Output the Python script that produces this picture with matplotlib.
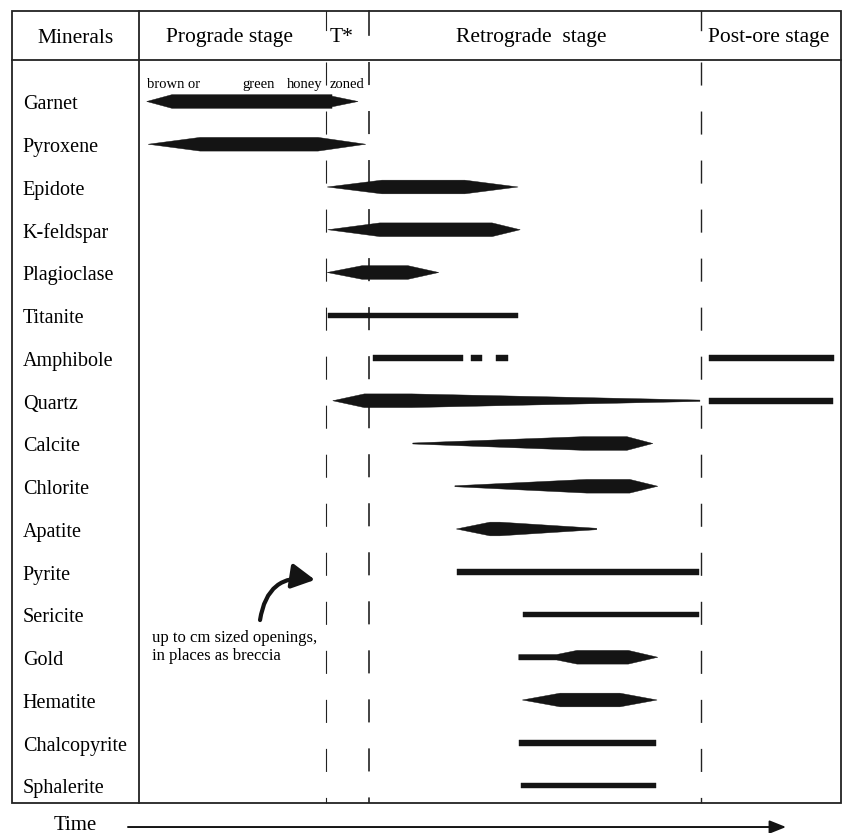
import matplotlib
matplotlib.use("Agg")
import matplotlib.pyplot as plt
from matplotlib.patches import Polygon, Rectangle, FancyArrowPatch

plt.rcParams["font.family"] = ["Liberation Serif", "DejaVu Serif"]
plt.rcParams["lines.scale_dashes"] = False

# ---- paragenetic data -------------------------------------------------------
# Time runs on a relative 0-100 scale across the table body.
minerals = ["Garnet", "Pyroxene", "Epidote", "K-feldspar", "Plagioclase",
            "Titanite", "Amphibole", "Quartz", "Calcite", "Chlorite",
            "Apatite", "Pyrite", "Sericite", "Gold", "Hematite",
            "Chalcopyrite", "Sphalerite"]

stage_names = ["Prograde stage", "T*", "Retrograde  stage", "Post-ore stage"]
stage_bounds = [26.6, 32.8, 80.1]          # prograde | T* | retrograde | post-ore

# Each mineral: list of segments, each a list of (time, relative abundance)
garnet = [[(1.1, 0), (4.7, 1), (27.5, 1), (27.5, 0.78), (31.2, 0)]]
pyroxene = [[(1.3, 0), (8.7, 1), (25.5, 1), (32.3, 0)]]
epidote = [[(26.8, 0), (34.6, 1), (46.4, 1), (54.0, 0)]]
k_feldspar = [[(26.9, 0), (34.3, 1), (50.3, 1), (54.3, 0)]]
plagioclase = [[(26.8, 0), (31.8, 1), (38.3, 1), (42.7, 0)]]
titanite = [[(26.9, 0.38), (54.0, 0.38)]]
amphibole = [[(33.3, 0.42), (46.2, 0.42)], [(47.3, 0.42), (48.9, 0.42)],
             [(50.8, 0.42), (52.6, 0.42)], [(81.2, 0.42), (99.0, 0.42)]]
quartz = [[(27.6, 0), (32.1, 1), (38.8, 1), (79.9, 0.1)],
          [(81.2, 0.42), (98.8, 0.42)]]
calcite = [[(39.0, 0.07), (63.3, 1), (69.5, 1), (73.2, 0)]]
chlorite = [[(45.0, 0.07), (63.8, 1), (69.9, 1), (73.9, 0)]]
apatite = [[(45.2, 0), (50.0, 1), (51.4, 1), (65.2, 0.1)]]
pyrite = [[(45.3, 0.42), (79.8, 0.42)]]
sericite = [[(54.7, 0.4), (79.8, 0.4)]]
gold = [[(54.1, 0.4), (59.5, 0.4), (62.4, 1), (69.7, 1), (73.9, 0)]]
hematite = [[(54.6, 0), (60.0, 1), (68.5, 1), (73.8, 0)]]
chalcopyrite = [[(54.1, 0.42), (73.7, 0.42)]]
sphalerite = [[(54.4, 0.4), (73.7, 0.4)]]

ranges = [garnet, pyroxene, epidote, k_feldspar, plagioclase, titanite,
          amphibole, quartz, calcite, chlorite, apatite, pyrite, sericite,
          gold, hematite, chalcopyrite, sphalerite]

garnet_notes = ["brown or", "green", "honey", "zoned"]
garnet_note_t = [1.1, 14.7, 21.1, 27.2]
opening_note = ["up to cm sized openings,", "in places as breccia"]

# ---- layout ----------------------------------------------------------------
BAR_H = 0.32          # full bar thickness in row units
INK = "#141414"

fig = plt.figure(figsize=(8.42, 8.33), dpi=100)
ax = fig.add_axes([0, 0, 1, 1])
ax.set_xlim(-19.80, 100.14)
ax.set_ylim(17.111, -2.374)
ax.axis("off")

left, right = -18.02, 99.97
top, head_bottom, bottom = -2.105, -0.971, 16.398

# table frame
ax.add_patch(Rectangle((left, top), right - left, bottom - top,
                       fill=False, lw=1.3, ec="#222222", zorder=5))
ax.plot([left, right], [head_bottom, head_bottom], color="#222222", lw=1.3, zorder=5)
ax.plot([0, 0], [top, bottom], color="#222222", lw=1.3, zorder=5)

# stage boundaries: short ticks in header, dashed through the body
head_tick_end = [-1.673, -1.556, -1.673]
dash_lw = [0.8, 1.2, 1.0]
for b, te, lw in zip(stage_bounds, head_tick_end, dash_lw):
    ax.plot([b, b], [top, te], color="#222222", lw=lw, zorder=4)
    ax.plot([b, b], [-0.924, bottom], color="#222222", lw=lw,
            dashes=(16.6, 18.7), zorder=1)

# header text
ax.text(-9.05, -1.368, "Minerals", ha="center", va="baseline", fontsize=15.5)
stage_x = [12.96, 28.9, 55.84, 89.74]
for name, x in zip(stage_names, stage_x):
    ax.text(x, -1.38, name, ha="center", va="baseline", fontsize=15.5)

# mineral rows
for i, (name, segs) in enumerate(zip(minerals, ranges)):
    ax.text(-16.57, i + 0.185, name, ha="left", va="baseline", fontsize=14.5)
    for seg in segs:
        ts = [p[0] for p in seg]
        ws = [p[1] * BAR_H / 2 for p in seg]
        upper = [(t, i - w) for t, w in zip(ts, ws)]
        lower = [(t, i + w) for t, w in zip(ts, ws)][::-1]
        ax.add_patch(Polygon(upper + lower, closed=True, fc=INK, ec=INK,
                             lw=0.3, zorder=3))

# garnet colour notes
for note, t in zip(garnet_notes, garnet_note_t):
    ax.text(t, -0.309, note, ha="left", va="baseline", fontsize=10.5)

# breccia note with curved arrow
ax.text(1.85, 12.636, opening_note[0], ha="left", va="baseline", fontsize=12)
ax.text(1.85, 13.064, opening_note[1], ha="left", va="baseline", fontsize=12)
ax.add_patch(FancyArrowPatch((17.24, 12.13), (25.07, 11.19),
                             connectionstyle="arc3,rad=-0.5",
                             arrowstyle="-|>,head_length=1.4,head_width=0.75",
                             mutation_scale=10, lw=3, color=INK,
                             shrinkA=0, shrinkB=0, zorder=4))

# time axis arrow
ax.text(-9.12, 17.03, "Time", ha="center", va="baseline", fontsize=15)
ax.add_patch(FancyArrowPatch((-1.57, 16.971), (92.17, 16.971),
                             arrowstyle="-|>,head_length=1.0,head_width=0.4",
                             mutation_scale=10, lw=1.4, color=INK,
                             shrinkA=0, shrinkB=0))

fig.savefig("out.png", dpi=100)
